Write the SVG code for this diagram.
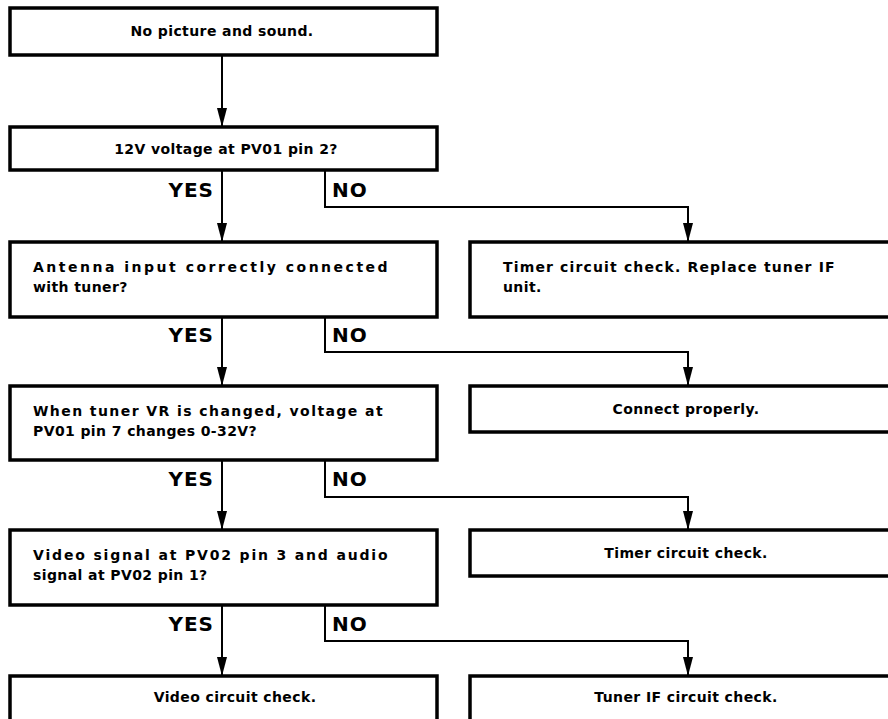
<svg xmlns="http://www.w3.org/2000/svg" width="888" height="719" viewBox="0 0 888 719">
  <style>
    .box { fill: #fff; stroke: #000; stroke-width: 3.5; }
    .txt { font-family: "DejaVu Sans", "Liberation Sans", sans-serif; font-weight: bold; font-size: 14px; letter-spacing: 0.4px; fill: #000; }
    .mid { text-anchor: middle; }
    .lbl { font-family: "DejaVu Sans", "Liberation Sans", sans-serif; font-weight: bold; font-size: 20px; fill: #000; letter-spacing: 1px; }
    .end { text-anchor: end; }
    .wire { fill: none; stroke: #000; stroke-width: 2; }
  </style>
  <defs>
    <marker id="arrow" markerUnits="userSpaceOnUse" markerWidth="20" markerHeight="12" viewBox="0 -6 20 12" refX="19" refY="0" orient="auto">
      <path d="M0,-5 L19,0 L0,5 z" fill="#000"/>
    </marker>
  </defs>
  <rect width="888" height="719" fill="#fff"/>

  <!-- connectors and YES / NO branch labels -->
  <g id="connectors">
    <path class="wire" d="M222,55 V127" marker-end="url(#arrow)"/>
    <path class="wire" d="M222,170 V242" marker-end="url(#arrow)"/>
    <path class="wire" d="M325,170 V207 H688 V242" marker-end="url(#arrow)"/>
    <path class="wire" d="M222,317 V386" marker-end="url(#arrow)"/>
    <path class="wire" d="M325,317 V352 H688 V386" marker-end="url(#arrow)"/>
    <path class="wire" d="M222,460 V530" marker-end="url(#arrow)"/>
    <path class="wire" d="M325,460 V497 H688 V530" marker-end="url(#arrow)"/>
    <path class="wire" d="M222,605 V676" marker-end="url(#arrow)"/>
    <path class="wire" d="M325,605 V641 H688 V676" marker-end="url(#arrow)"/>
    <text class="lbl end" x="214" y="197">YES</text>
    <text class="lbl" x="332" y="197">NO</text>
    <text class="lbl end" x="214" y="342">YES</text>
    <text class="lbl" x="332" y="342">NO</text>
    <text class="lbl end" x="214" y="486">YES</text>
    <text class="lbl" x="332" y="486">NO</text>
    <text class="lbl end" x="214" y="631">YES</text>
    <text class="lbl" x="332" y="631">NO</text>
  </g>

  <g id="start">
    <rect class="box" x="10" y="8" width="427" height="47"/>
    <text class="txt mid" x="222" y="36">No picture and sound.</text>
  </g>
  <g id="q-12v">
    <rect class="box" x="10" y="127" width="427" height="43"/>
    <text class="txt mid" x="226" y="154">12V voltage at PV01 pin 2?</text>
  </g>
  <g id="q-antenna">
    <rect class="box" x="10" y="242" width="427" height="75"/>
    <text class="txt" x="33" y="272" textLength="355" lengthAdjust="spacing">Antenna input correctly connected</text>
    <text class="txt" x="33" y="292">with tuner?</text>
  </g>
  <g id="r-timer-replace">
    <rect class="box" x="470" y="242" width="430" height="75"/>
    <text class="txt" x="503" y="272" textLength="332" lengthAdjust="spacing">Timer circuit check. Replace tuner IF</text>
    <text class="txt" x="503" y="292">unit.</text>
  </g>
  <g id="q-tuner-vr">
    <rect class="box" x="10" y="386" width="427" height="74"/>
    <text class="txt" x="33" y="416" textLength="350" lengthAdjust="spacing">When tuner VR is changed, voltage at</text>
    <text class="txt" x="33" y="436">PV01 pin 7 changes 0-32V?</text>
  </g>
  <g id="r-connect">
    <rect class="box" x="470" y="386" width="430" height="46"/>
    <text class="txt mid" x="686" y="414">Connect properly.</text>
  </g>
  <g id="q-signal">
    <rect class="box" x="10" y="530" width="427" height="75"/>
    <text class="txt" x="33" y="560" textLength="355" lengthAdjust="spacing">Video signal at PV02 pin 3 and audio</text>
    <text class="txt" x="33" y="580">signal at PV02 pin 1?</text>
  </g>
  <g id="r-timer">
    <rect class="box" x="470" y="530" width="430" height="46"/>
    <text class="txt mid" x="686" y="558">Timer circuit check.</text>
  </g>
  <g id="r-video">
    <rect class="box" x="10" y="676" width="427" height="60"/>
    <text class="txt mid" x="235" y="702">Video circuit check.</text>
  </g>
  <g id="r-tuner-if">
    <rect class="box" x="470" y="676" width="430" height="60"/>
    <text class="txt mid" x="686" y="702">Tuner IF circuit check.</text>
  </g>
</svg>
